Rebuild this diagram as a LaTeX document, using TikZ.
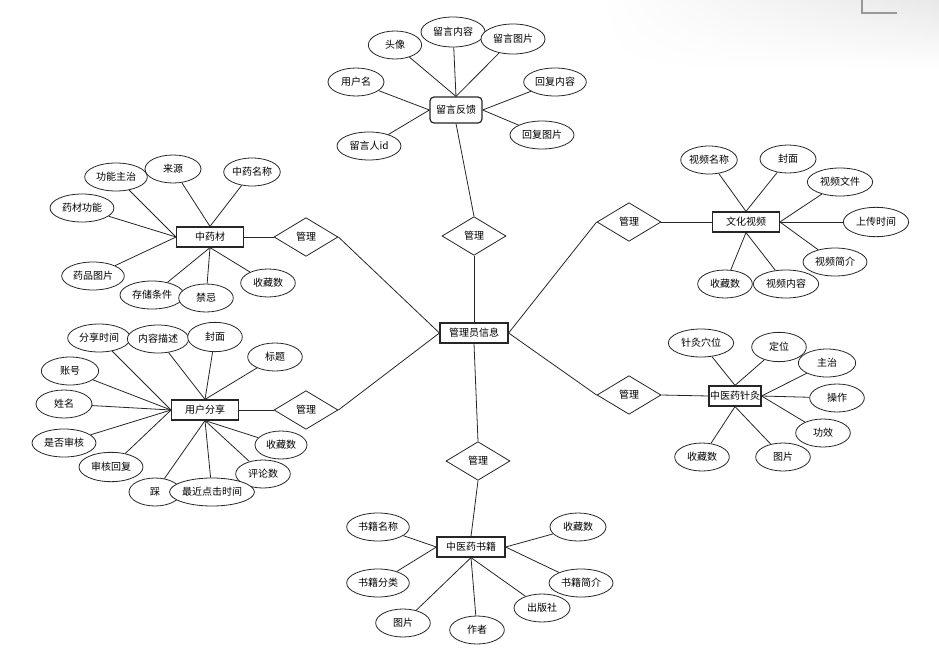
\documentclass[tikz,border=0pt]{standalone}
\usepackage{fontspec}
\setmainfont{Noto Sans CJK SC}
\usetikzlibrary{shapes.geometric,backgrounds,fadings}
\tikzfading[name=myfade, left color=transparent!100, right color=transparent!0]
\begin{document}
\begin{tikzpicture}[x=0.75pt,y=-0.75pt,
 every node/.style={font=\fontsize{7.5pt}{9pt}\selectfont},
 attr/.style={ellipse,draw=black!85,fill=white,line width=0.6pt,inner sep=0pt,minimum height=21pt,minimum width=42pt},
 ent/.style={rectangle,draw=black!85,fill=white,line width=0.9pt,inner sep=0pt,minimum height=15pt,minimum width=50pt},
 rel/.style={diamond,draw=black!85,fill=white,line width=0.6pt,inner sep=0pt,minimum width=48pt,minimum height=29pt},
 conn/.style={draw=black!85,line width=0.6pt}]
\useasboundingbox (0,0) rectangle (939,653);
\shade[top color=black!9,bottom color=white,path fading=myfade] (600,0) rectangle (939,70);
\draw[black!40,line width=0.8pt] (862,0) -- (862,13) -- (897,13);

% entities
\node[ent,minimum width=51pt] (adm) at (474,333) {管理员信息};
\node[ent,rounded corners=3pt,minimum width=39pt,minimum height=19.5pt] (fk) at (456,110) {留言反馈};
\node[ent] (zyc) at (210,237) {中药材};
\node[ent] (yhfx) at (205,410) {用户分享};
\node[ent] (whsp) at (746,222) {文化视频};
\node[ent,minimum width=39pt] (zj) at (735,396) {中医药针灸};
\node[ent,minimum width=51pt] (sj) at (471,547) {中医药书籍};

% relations
\node[rel] (d1) at (474,236) {管理};
\node[rel] (d2) at (306,237) {管理};
\node[rel] (d3) at (306,410) {管理};
\node[rel] (d4) at (629,222) {管理};
\node[rel] (d5) at (629,395) {管理};
\node[rel] (d6) at (478,461) {管理};

% 留言反馈 attributes
\node[attr,minimum width=40pt] (a1) at (395,45) {头像};
\node[attr,minimum width=48pt,minimum height=22.5pt] (a2) at (453,32) {留言内容};
\node[attr,minimum width=48pt,minimum height=22.5pt] (a3) at (513,39) {留言图片};
\node[attr] (a4) at (356,82) {用户名};
\node[attr,minimum width=47pt] (a5) at (555,82) {回复内容};
\node[attr,minimum width=48pt] (a6) at (542,135) {回复图片};
\node[attr,minimum width=48pt] (a7) at (369,146) {留言人id};

% 中药材 attributes
\node[attr,minimum width=47pt] (b1) at (116,177) {功能主治};
\node[attr] (b2) at (173,169) {来源};
\node[attr,minimum width=41pt] (b3) at (252,172) {中药名称};
\node[attr,minimum width=48pt] (b4) at (82,208) {药材功能};
\node[attr,minimum width=47pt] (b5) at (93,276) {药品图片};
\node[attr,minimum width=48pt] (b6) at (152,295) {存储条件};
\node[attr,minimum width=41pt] (b7) at (206,298) {禁忌};
\node[attr,minimum width=41pt] (b8) at (268,283) {收藏数};

% 用户分享 attributes
\node[attr,minimum width=47pt] (c1) at (99,338) {分享时间};
\node[attr,minimum width=46pt] (c2) at (158,339) {内容描述};
\node[attr,minimum width=41pt,minimum height=22pt] (c3) at (215,337) {封面};
\node[attr,minimum width=41pt] (c4) at (275,357) {标题};
\node[attr,minimum width=43pt] (c5) at (70,371) {账号};
\node[attr] (c6) at (64,404) {姓名};
\node[attr,minimum width=48pt] (c7) at (64,443) {是否审核};
\node[attr,minimum width=48pt,minimum height=22pt] (c8) at (111,467) {审核回复};
\node[attr,minimum width=39pt] (c9) at (281,445) {收藏数};
\node[attr,minimum width=41pt] (c10) at (263,474) {评论数};
\node[attr,minimum width=39pt] (c11) at (155,492) {踩};
\node[attr,minimum width=62pt] (c12) at (212,492) {最近点击时间};

% 文化视频 attributes
\node[attr] (e1) at (709,160) {视频名称};
\node[attr] (e2) at (788,159) {封面};
\node[attr,minimum width=49pt] (e3) at (840,182) {视频文件};
\node[attr,minimum width=49pt,minimum height=22pt] (e4) at (876,222) {上传时间};
\node[attr,minimum width=48pt] (e5) at (835,262) {视频简介};
\node[attr,minimum width=41pt] (e6) at (725,284) {收藏数};
\node[attr,minimum width=49pt] (e7) at (786,284) {视频内容};

% 中医药针灸 attributes
\node[attr,minimum width=49pt] (f1) at (701,343) {针灸穴位};
\node[attr,minimum width=41pt,minimum height=22pt] (f2) at (779,347) {定位};
\node[attr,minimum width=43pt] (f3) at (827,363) {主治};
\node[attr,minimum width=41pt] (f4) at (837,398) {操作};
\node[attr,minimum width=41pt] (f5) at (823,433) {功效};
\node[attr,minimum width=41pt] (f6) at (783,457) {图片};
\node[attr,minimum width=41pt] (f7) at (702,457) {收藏数};

% 中医药书籍 attributes
\node[attr,minimum width=47pt] (g1) at (378,527) {书籍名称};
\node[attr,minimum width=47pt] (g2) at (378,583) {书籍分类};
\node[attr,minimum width=41pt] (g3) at (403,623) {图片};
\node[attr,minimum width=41pt] (g4) at (477,630) {作者};
\node[attr] (g5) at (542,608) {出版社};
\node[attr,minimum width=48pt] (g6) at (581,583) {书籍简介};
\node[attr] (g7) at (578,527) {收藏数};

\begin{scope}[on background layer]
% main
\draw[conn] (fk.south) -- (d1.north);
\draw[conn] (d1.south) -- (adm.north);
\draw[conn] (adm.west) -- (d2.east);
\draw[conn] (adm.west) -- (d3.east);
\draw[conn] (adm.east) -- (d4.west);
\draw[conn] (adm.east) -- (d5.west);
\draw[conn] (adm.south) -- (d6.north);
\draw[conn] (d6.south) -- (sj.north);
\draw[conn] (zyc.east) -- (d2.west);
\draw[conn] (yhfx.east) -- (d3.west);
\draw[conn] (d4.east) -- (whsp.west);
\draw[conn] (d5.east) -- (zj.west);
% 留言反馈
\draw[conn] (a1) -- (fk.north);
\draw[conn] (a2) -- (fk.north);
\draw[conn] (a3) -- (fk.north);
\draw[conn] (a4) -- (fk.west);
\draw[conn] (a7) -- (fk.west);
\draw[conn] (a5) -- (fk.east);
\draw[conn] (a6) -- (fk.east);
% 中药材
\draw[conn] (b1) -- (zyc.west);
\draw[conn] (b4) -- (zyc.west);
\draw[conn] (b5) -- (zyc.west);
\draw[conn] (b2) -- (zyc.north);
\draw[conn] (b3) -- (zyc.north);
\draw[conn] (b6) -- (zyc.south);
\draw[conn] (b7) -- (zyc.south);
\draw[conn] (b8) -- (zyc.south);
% 用户分享
\draw[conn] (c1) -- (yhfx.west);
\draw[conn] (c5) -- (yhfx.west);
\draw[conn] (c6) -- (yhfx.west);
\draw[conn] (c7) -- (yhfx.west);
\draw[conn] (c8) -- (yhfx.west);
\draw[conn] (c2) -- (yhfx.north);
\draw[conn] (c3) -- (yhfx.north);
\draw[conn] (c4) -- (yhfx.north);
\draw[conn] (c9) -- (yhfx.south);
\draw[conn] (c10) -- (yhfx.south);
\draw[conn] (c11) -- (yhfx.south);
\draw[conn] (c12) -- (yhfx.south);
% 文化视频
\draw[conn] (e1) -- (whsp.north);
\draw[conn] (e2) -- (whsp.north);
\draw[conn] (e3) -- (whsp.east);
\draw[conn] (e4) -- (whsp.east);
\draw[conn] (e5) -- (whsp.east);
\draw[conn] (e6) -- (whsp.south);
\draw[conn] (e7) -- (whsp.south);
% 中医药针灸
\draw[conn] (f1) -- (zj.north);
\draw[conn] (f2) -- (zj.north);
\draw[conn] (f3) -- (zj.east);
\draw[conn] (f4) -- (zj.east);
\draw[conn] (f5) -- (zj.east);
\draw[conn] (f6) -- (zj.south);
\draw[conn] (f7) -- (zj.south);
% 中医药书籍
\draw[conn] (g1) -- (sj.west);
\draw[conn] (g2) -- (sj.west);
\draw[conn] (g3) -- (sj.south);
\draw[conn] (g4) -- (sj.south);
\draw[conn] (g5) -- (sj.south);
\draw[conn] (g6) -- (sj.east);
\draw[conn] (g7) -- (sj.east);
\end{scope}
\end{tikzpicture}
\end{document}
